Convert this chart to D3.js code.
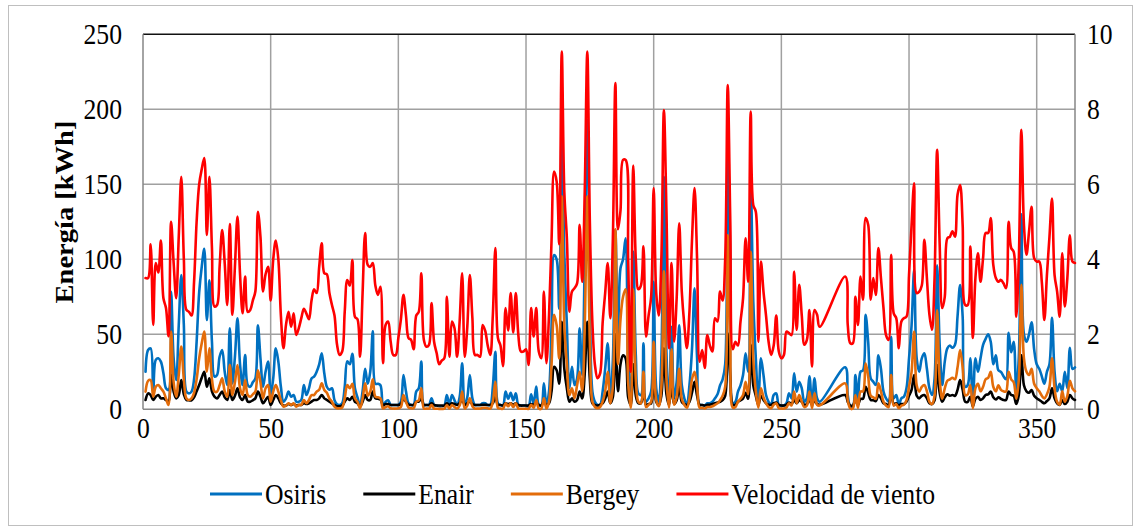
<!DOCTYPE html>
<html>
<head>
<meta charset="utf-8">
<script src="https://cdn.jsdelivr.net/npm/d3@7"></script>
<style>
  body { margin: 0; background: #ffffff; }
  svg { display: block; }
</style>
</head>
<body>
<svg id="chart" width="1139" height="531"></svg>
<script>
// Daily series, day 1..365 (null = no record for that day)
const dias = d3.range(1, 366);

// Osiris [kWh]
const osiris = [
  25, 39.5, 40.6, 11.8, 32.9, 34, 31.8, 24, 14, 12.9,
  78.4, 34, 19.5, 56, 89.5, 56, 11.8, 10.6, 11.8, 20,
  45, 78, 95, 107, 59.5, 86, 45, 21.8, 22.9, 35,
  39.5, 25, 16.2, 54, 17.3, 35, 60.6, 30, 16.2, 36.2,
  16.2, 15, 18, 20.6, 56, 34, 15, 25, 31.8, 9.5,
  20.6, 40.6, 31.8, 15, 5.1, 7.3, 11.8, 8.4, 9.5, 5.1,
  5.1, 6.2, 16.2, 9.5, 14, 20.6, 21.8, 25, 30, 37.3,
  24, 15, 13, 14, 6, 3.3, 2.9, 4, 15, 32,
  30, 37, 14, 8, 2.5, 12, 27, 17, 25, 52,
  17, 17, 16, 1.8, 5, 6, 2.9, 2.9, 2.9, 2.9,
  5, 22.9, 11.8, 4, 2.9, 2.9, 11.8, 14, 31.8, 2.9,
  2.9, 2.9, 7.3, 2.9, 2.5, 2, 2, 2.5, 9.5, 2.9,
  9.5, 6, 2.9, 8, 30.7, 2.9, 8, 22.9, 7.3, 2.9,
  2.9, 2.9, 4, 4, 2.9, 2.9, 15, 38.4, 4, 2.9,
  2.5, 11.8, 7, 11, 6, 10.6, 2.9, 2.5, 2.5, 2.5,
  2, 10, 4, 15.2, 2.9, 2.5, 17.3, 2.9, 11.8, 55,
  102.9, 100, 67, 186, 103, 56, 14, 28.4, 16.2, 20.6,
  54, 22.9, 100, 193, 78, 11.8, 5, 2.9, 2.9, 11.8,
  27, 44, 8.4, 32, 119.5, 50, 94, 100, 114, 34,
  4, 105, 36, 10.6, 9.5, 44, 5.1, 7.3, 11.8, 85,
  14, 5.1, 34, 155, 38, 2.9, 55, 7.3, 18.4, 56,
  16.2, 7.3, 2.9, 16, 40, 80.6, 34, 2.9, 2.9, 2.5,
  4, 4, 5, 7.3, 10, 16, 20, 30, 177, 100,
  4, 5, 11.8, 16, 22.9, 37.3, 25, 152, 71.8, 34,
  5, 34, 22.9, 9.5, 5, 2.9, 9.5, 10.6, 2.9, 2.5,
  2.5, 4, 10.6, 7.3, 24, 11.8, 18.4, 14, 5, 7.3,
  22, 2.9, 20.6, 7.3, 5, null, null, null, null, null,
  null, null, null, null, 28, 9.5, 1.8, 1.8, 22.9, 2.9,
  25, 26, 63, 45, 20.6, 18.4, 16.2, 36, 27, 11.8,
  7.3, 5, 48.4, 7.3, 9.5, 2.9, 7.3, 8.4, 14, 34,
  56, 93, 34, 25, 34, 37.3, 27, 14, 9.5, 20.6,
  96, 43, 16.2, 31.8, 40.6, 42.5, 41, 43, 62, 82.9,
  62, 15, 16.2, 34, 1.8, 34, 25, 34, 43, 47,
  50, 45, 30, 36, 26, 25, 22, 20, 51, 38,
  45, 12, 35, 130, 50, 45, 50, 58, 40, 30,
  27, 22, 17, 25, 30, 61, 25, 12, 17, 12,
  25, 14, 41, 27, 28
];

// Enair [kWh]
const enair = [
  6.2, 10.6, 9.5, 6.2, 8.4, 9.5, 7.3, 7.3, 6.2, 5.1,
  22.9, 11.8, 7.3, 9.5, 19.5, 10, 6.2, 6, 6, 8,
  12, 16.2, 21, 25, 15, 20.6, 12, 8.4, 7.3, 9.5,
  11.8, 8, 6.2, 12.9, 6.2, 9, 14, 8, 6.2, 9.5,
  5.1, 5.1, 6, 7.3, 11.8, 8.4, 4, 6.2, 8.4, 2.9,
  6.2, 9.5, 7.3, 4, 2.5, 2.5, 3.5, 2.9, 3.5, 2.5,
  2.9, 2.9, 4, 3.5, 4, 5.1, 6.2, 6.2, 7.3, 9.5,
  7.3, 6.2, 5.1, 4, 2.9, 2, 2, 2.5, 5, 7.3,
  6.2, 8.4, 5, 4, 2, 5.1, 9.5, 6.2, 6.2, 11.8,
  7.3, 7, 6.5, 2.9, 3.5, 3.5, 2.9, 2.9, 2.9, 2.9,
  3.5, 7.3, 5, 3, 2.9, 2.9, 5, 5.1, 7.3, 2.9,
  2.9, 2.9, 4, 2.9, 2.5, 2.5, 2.5, 2.5, 4, 2.9,
  4, 3.5, 2.9, 4, 6.2, 2.9, 4, 5.1, 3.5, 2.9,
  2.9, 2.9, 3, 3, 2.9, 2.9, 4, 8.4, 2.9, 2.9,
  2.5, 4, 3.5, 4, 3, 4, 2.9, 2.5, 2.5, 2.5,
  2.5, 3.5, 3, 4.5, 2.9, 2.5, 5, 2.9, 4, 12,
  28.4, 26, 17, 58.4, 27, 14, 5, 7.3, 5, 6.2,
  11.8, 7.3, 24, 58.4, 20, 4, 2.9, 2.5, 3, 4,
  7, 11.8, 4, 8, 50, 12, 30, 36, 34, 8,
  2.9, 30, 9, 4, 4, 11.8, 2.9, 3.5, 4, 22.9,
  5, 2.9, 9, 40.6, 10, 2.9, 16, 3.5, 6, 16,
  5, 3.5, 2.9, 5, 11, 18.4, 9, 2.9, 2.9, 2.5,
  3, 3, 3.5, 4, 4.5, 5, 6.2, 9, 50.6, 22,
  2.9, 3, 5, 6, 7.3, 11, 7, 43, 16, 9,
  3, 9, 6.2, 4, 3, 2.9, 4, 4.5, 2.9, 2.5,
  2.5, 3, 4.5, 3.5, 6.2, 4, 6, 5, 3, 3.5,
  6.5, 2.9, 6.2, 3.5, 3, null, null, null, null, null,
  null, null, null, null, 9.5, 5, 2.5, 2.5, 6, 2.9,
  7, 7, 15, 11, 6.2, 6, 5.5, 9.5, 7.3, 4,
  3.5, 2.9, 11.8, 3.5, 4, 2.5, 3.5, 3.5, 5, 9,
  13, 22.9, 9, 7.3, 9, 9.5, 7.3, 4, 3.5, 6,
  29.5, 11, 5, 8, 10, 9, 9.5, 9, 13, 19.5,
  13, 5, 5, 8.4, 2, 7, 8.4, 6.2, 7.3, 9.5,
  10, 11.8, 8, 6.5, 8, 7, 6.2, 6.2, 11.8, 9.5,
  9, 3.5, 9.5, 36, 16, 12, 11, 12.9, 9, 7.3,
  6.2, 5, 4, 5.5, 7.3, 14, 7.3, 4, 2.9, 6.2,
  3.5, 5.1, 9.5, 7.3, 6.2
];

// Bergey [kWh]
const bergey = [
  11.8, 19, 19.5, 8.4, 15, 16.2, 14, 11.8, 7.3, 2.9,
  51.8, 18, 8.4, 22.9, 41.8, 20, 7.3, 6.2, 7.3, 11,
  20, 34, 44, 51.8, 25, 40.6, 20, 11.8, 11.8, 16,
  20.6, 12, 8.4, 29.5, 9.5, 18, 29.5, 14, 9.5, 19.5,
  9.5, 8.4, 10, 11.8, 26, 18, 7.3, 14, 16.2, 5.1,
  11.8, 16.2, 11.8, 6, 1.8, 2.5, 4, 2.9, 4, 1.8,
  2.9, 2.9, 6.2, 4, 6.2, 9.5, 9.5, 11.8, 13, 17.3,
  12.9, 11, 7.3, 5, 1.8, 0.7, 0.7, 1.2, 7.3, 16.2,
  14, 17, 7.3, 5, 0.7, 7, 17.3, 9, 11.8, 20,
  8.4, 8, 7.3, 0.5, 1.5, 2, 0.7, 0.5, 0.5, 0.7,
  1.5, 9.5, 5, 1.2, 0.7, 0.7, 5, 6, 14, 0.5,
  0.5, 0.5, 2.9, 0.5, 0.4, 0.3, 0.3, 0.4, 2.9, 0.5,
  2.9, 1.5, 0.5, 2.5, 11.8, 0.5, 2.5, 7.3, 2, 0.5,
  0.5, 0.5, 1, 1, 0.7, 0.5, 5, 18.4, 1, 0.5,
  0.4, 4, 2, 4, 1.5, 4, 0.5, 0.4, 0.4, 0.4,
  0.3, 3, 1, 6, 0.5, 0.4, 7.3, 0.5, 5, 30,
  63, 56, 34, 142, 56, 30, 9.5, 14, 7.3, 16,
  25, 12, 56, 142, 45, 5, 1.5, 0.7, 1.5, 5,
  12, 25, 4, 15, 120, 30, 60, 75, 80, 18,
  1, 80, 20, 5, 4, 25, 1.5, 3, 5, 45,
  6, 2, 15, 92, 20, 1, 40, 3, 8, 27,
  7, 3, 1, 7, 20, 25, 15, 1, 1, 0.5,
  1.5, 1.5, 2, 3, 4, 6, 9, 15, 116, 45,
  1, 1.5, 5, 7, 9.5, 18.4, 10, 105, 34, 12,
  1, 14, 8, 4, 1.5, 0.7, 3, 4, 0.7, 0.5,
  0.5, 1.2, 4, 2.5, 11.8, 4, 9.5, 5, 1.5, 2.5,
  11.8, 0.7, 10.6, 3, 2.5, null, null, null, null, null,
  null, null, null, null, 17.3, 6, 0.5, 0.5, 9.5, 1,
  11.8, 12, 30.7, 22, 9, 8, 7, 17.3, 12, 5,
  2.5, 1.5, 22.9, 2.5, 3.5, 0.7, 2.5, 3, 6, 15,
  25, 51.8, 16, 11.8, 15, 16.2, 12, 5, 3.5, 9,
  66, 20, 7, 14, 19, 20, 21, 20, 28, 39.5,
  28, 9.5, 10, 16.2, 0.7, 14, 17, 12, 15, 20,
  21, 25, 15, 12, 16, 13, 12, 11.8, 25, 20,
  18, 7, 20, 83, 34, 25, 22.9, 27, 17, 14,
  12, 9, 7.3, 10, 15, 34, 14, 5, 3, 12,
  5, 9, 19, 14, 12
];

// Velocidad de viento [m/s]
const viento = [
  3.5, 3.5, 4.4, 2.25, 3.9, 3.65, 4.5, 2.96, 2.7, 1.95,
  5.0, 3.9, 2.96, 4.6, 6.2, 4.0, 2.65, 2.6, 2.5, 3.4,
  5.0, 6.0, 6.4, 6.7, 4.65, 6.2, 4.3, 2.74, 2.78, 3.8,
  4.78, 3.9, 2.78, 4.94, 2.52, 3.8, 5.14, 3.6, 2.56, 3.54,
  2.6, 2.65, 2.9, 3.14, 5.27, 4.6, 3.14, 3.6, 3.8, 2.9,
  4.0, 4.5, 4.0, 2.5, 1.63, 2.25, 2.6, 2.2, 2.56, 1.98,
  2.16, 2.43, 2.68, 2.55, 2.4, 2.9, 3.2, 3.1, 3.8, 4.43,
  3.63, 3.6, 3.1, 2.78, 2.5, 1.72, 1.45, 1.54, 2.6, 3.45,
  3.3, 3.98, 2.47, 2.4, 1.4, 3.1, 4.7, 3.85, 3.8, 3.9,
  3.3, 3.05, 3.27, 1.23, 2.25, 2.34, 1.8, 1.45, 1.45, 1.9,
  2.4, 3.05, 2.5, 1.9, 1.85, 1.6, 2.5, 2.6, 3.63, 1.85,
  1.67, 1.72, 2.83, 1.8, 1.5, 1.2, 1.3, 1.36, 3.0, 1.4,
  2.34, 2.16, 1.4, 2.34, 3.63, 1.4, 2.2, 3.58, 2.43, 1.45,
  1.45, 1.4, 2.25, 2.1, 1.7, 1.45, 2.5, 4.3, 1.9, 1.7,
  1.15, 2.7, 2.1, 3.1, 2.05, 3.1, 1.98, 1.54, 1.54, 1.6,
  1.18, 2.7, 1.94, 2.7, 1.54, 1.36, 3.14, 1.23, 2.5, 4.5,
  6.34, 6.07, 4.4, 9.54, 5.8, 4.56, 2.6, 3.14, 3.23, 3.36,
  4.92, 3.4, 5.8, 9.54, 5.0, 2.3, 1.18, 0.83, 0.95, 2.3,
  3.1, 3.9, 2.43, 4.5, 8.7, 4.8, 5.3, 6.65, 6.65, 4.0,
  1.0, 6.5, 4.0, 3.2, 3.3, 4.35, 1.94, 2.5, 3.0, 5.9,
  3.1, 2.5, 4.0, 7.98, 5.27, 1.63, 3.9, 1.8, 2.96, 4.96,
  3.14, 2.25, 1.63, 2.6, 4.5, 5.9, 4.0, 1.27, 1.58, 1.1,
  1.98, 1.7, 1.54, 2.43, 2.34, 3.14, 2.9, 4.0, 8.65, 5.0,
  1.6, 1.8, 1.7, 2.34, 2.96, 4.56, 3.4, 7.94, 5.45, 5.27,
  1.8, 3.94, 3.14, 2.5, 1.8, 1.45, 1.7, 2.5, 1.54, 1.36,
  1.45, 2.07, 2.03, 1.98, 3.67, 2.12, 3.32, 2.5, 1.72, 1.85,
  2.65, 1.14, 2.65, 2.52, 2.2, null, null, null, null, null,
  null, null, null, null, 3.54, 2.25, 1.76, 1.76, 3.0, 2.25,
  3.54, 2.92, 5.1, 4.92, 2.92, 3.5, 3.05, 4.3, 3.5, 2.7,
  1.98, 1.85, 4.12, 2.56, 2.43, 1.63, 2.34, 2.43, 2.47, 3.58,
  4.92, 6.03, 3.1, 3.14, 3.3, 4.52, 3.5, 2.52, 2.12, 3.5,
  6.92, 4.4, 2.7, 3.0, 4.56, 4.6, 4.75, 4.6, 5.72, 5.98,
  4.92, 2.78, 2.78, 4.34, 1.9, 3.5, 4.16, 3.4, 4.03, 4.7,
  4.7, 5.1, 3.85, 3.5, 3.4, 3.45, 3.36, 3.23, 5.0, 4.3,
  4.2, 2.47, 4.0, 7.45, 4.92, 4.12, 4.74, 5.4, 4.03, 3.94,
  3.94, 3.4, 2.38, 3.58, 4.6, 5.62, 3.58, 3.14, 2.47, 4.16,
  2.74, 3.5, 4.64, 3.94, 3.9
];

// Axis ticks
const ticksX = [0, 50, 100, 150, 200, 250, 300, 350];
const ticksEnergia = [0, 50, 100, 150, 200, 250];
const ticksViento = [0, 2, 4, 6, 8, 10];

const series = [
  { name: "Osiris", values: osiris, color: "#0070C0", axis: "E" },
  { name: "Enair", values: enair, color: "#000000", axis: "E" },
  { name: "Bergey", values: bergey, color: "#E36C0A", axis: "E" },
  { name: "Velocidad de viento", values: viento, color: "#FF0000", axis: "V" }
];

const SERIF = '"Liberation Serif", "Times New Roman", Times, serif';
const fontSize = 28.5;      // glyph height
const squeeze = 0.9;        // narrow set width of the serif face

const svg = d3.select("#chart");
const plot = { left: 143, right: 1075, top: 34.3, bottom: 409.3 };

const x = d3.scaleLinear().domain([0, 365]).range([plot.left, plot.right]);
const yE = d3.scaleLinear().domain([0, 250]).range([plot.bottom, plot.top]);
const yV = d3.scaleLinear().domain([0, 10]).range([plot.bottom, plot.top]);

// outer frame
svg.append("rect")
  .attr("x", 8.5).attr("y", 5.5)
  .attr("width", 1124).attr("height", 520)
  .attr("fill", "#fff").attr("stroke", "#bfbfbf").attr("stroke-width", 1);

// gridlines
const grid = svg.append("g");
grid.selectAll("line.h").data(ticksEnergia.filter(t => t > 0 && t < 250)).join("line")
  .attr("x1", plot.left).attr("x2", plot.right)
  .attr("y1", d => yE(d)).attr("y2", d => yE(d))
  .attr("stroke", "#a0a0a0").attr("stroke-width", 1.5);
grid.selectAll("line.v").data(ticksX.filter(t => t > 0)).join("line")
  .attr("x1", d => x(d)).attr("x2", d => x(d))
  .attr("y1", plot.top).attr("y2", plot.bottom)
  .attr("stroke", "#a0a0a0").attr("stroke-width", 1.5);

// plot frame
svg.append("line").attr("x1", plot.left).attr("x2", plot.right)
  .attr("y1", plot.top).attr("y2", plot.top)
  .attr("stroke", "#111").attr("stroke-width", 1.5);
svg.append("line").attr("x1", plot.left).attr("x2", plot.left)
  .attr("y1", plot.top).attr("y2", plot.bottom)
  .attr("stroke", "#868686").attr("stroke-width", 1.5);
svg.append("line").attr("x1", plot.right).attr("x2", plot.right)
  .attr("y1", plot.top).attr("y2", plot.bottom)
  .attr("stroke", "#868686").attr("stroke-width", 1.5);
svg.append("line").attr("x1", plot.left).attr("x2", plot.right + 8)
  .attr("y1", plot.bottom).attr("y2", plot.bottom)
  .attr("stroke", "#868686").attr("stroke-width", 1.5);

// axes (labels only)
const axL = svg.append("g").attr("transform", `translate(${plot.left - 21},0)`)
  .call(d3.axisLeft(yE).tickValues(ticksEnergia).tickSize(0).tickPadding(0));
const axR = svg.append("g").attr("transform", `translate(${plot.right + 12},0)`)
  .call(d3.axisRight(yV).tickValues(ticksViento).tickSize(0).tickPadding(0));
const axB = svg.append("g").attr("transform", `translate(0,${plot.bottom + 6})`)
  .call(d3.axisBottom(x).tickValues(ticksX).tickSize(0).tickPadding(0));
[axL, axR, axB].forEach(g => {
  g.select(".domain").remove();
  g.attr("font-family", null).attr("font-size", null);
  g.selectAll("text")
    .attr("x", 0)
    .attr("transform", `scale(${squeeze},1)`)
    .style("font-family", SERIF)
    .style("font-size", fontSize + "px")
    .attr("fill", "#000");
});
axB.selectAll("text").attr("dy", "0.8em");

// y title
svg.append("text")
  .attr("transform", `translate(73,212) rotate(-90) scale(1,${squeeze})`)
  .attr("text-anchor", "middle")
  .style("font-family", SERIF)
  .style("font-size", "28.5px").style("font-weight", "bold")
  .text("Energía [kWh]");

// series
series.forEach(s => {
  const y = s.axis === "E" ? yE : yV;
  const pts = dias.map((d, i) => [d, s.values[i]]).filter(p => p[1] !== null);
  const line = d3.line()
    .x(p => x(p[0]))
    .y(p => y(p[1]))
    .curve(d3.curveCatmullRom.alpha(0.5));
  svg.append("path")
    .datum(pts)
    .attr("d", line)
    .attr("fill", "none")
    .attr("stroke", s.color)
    .attr("stroke-width", 2.6)
    .attr("stroke-linejoin", "round")
    .attr("stroke-linecap", "round");
});

// legend
const legend = svg.append("g").attr("transform", "translate(210,494)");
let lx = 0;
series.forEach(s => {
  legend.append("line").attr("x1", lx).attr("x2", lx + 52)
    .attr("y1", 0).attr("y2", 0)
    .attr("stroke", s.color).attr("stroke-width", 3);
  const t = legend.append("text")
    .attr("transform", `translate(${lx + 55},10) scale(${squeeze},1)`)
    .style("font-family", SERIF)
    .style("font-size", fontSize + "px").text(s.name);
  lx += 55 + t.node().getComputedTextLength() * squeeze + 37;
});
</script>
</body>
</html>
